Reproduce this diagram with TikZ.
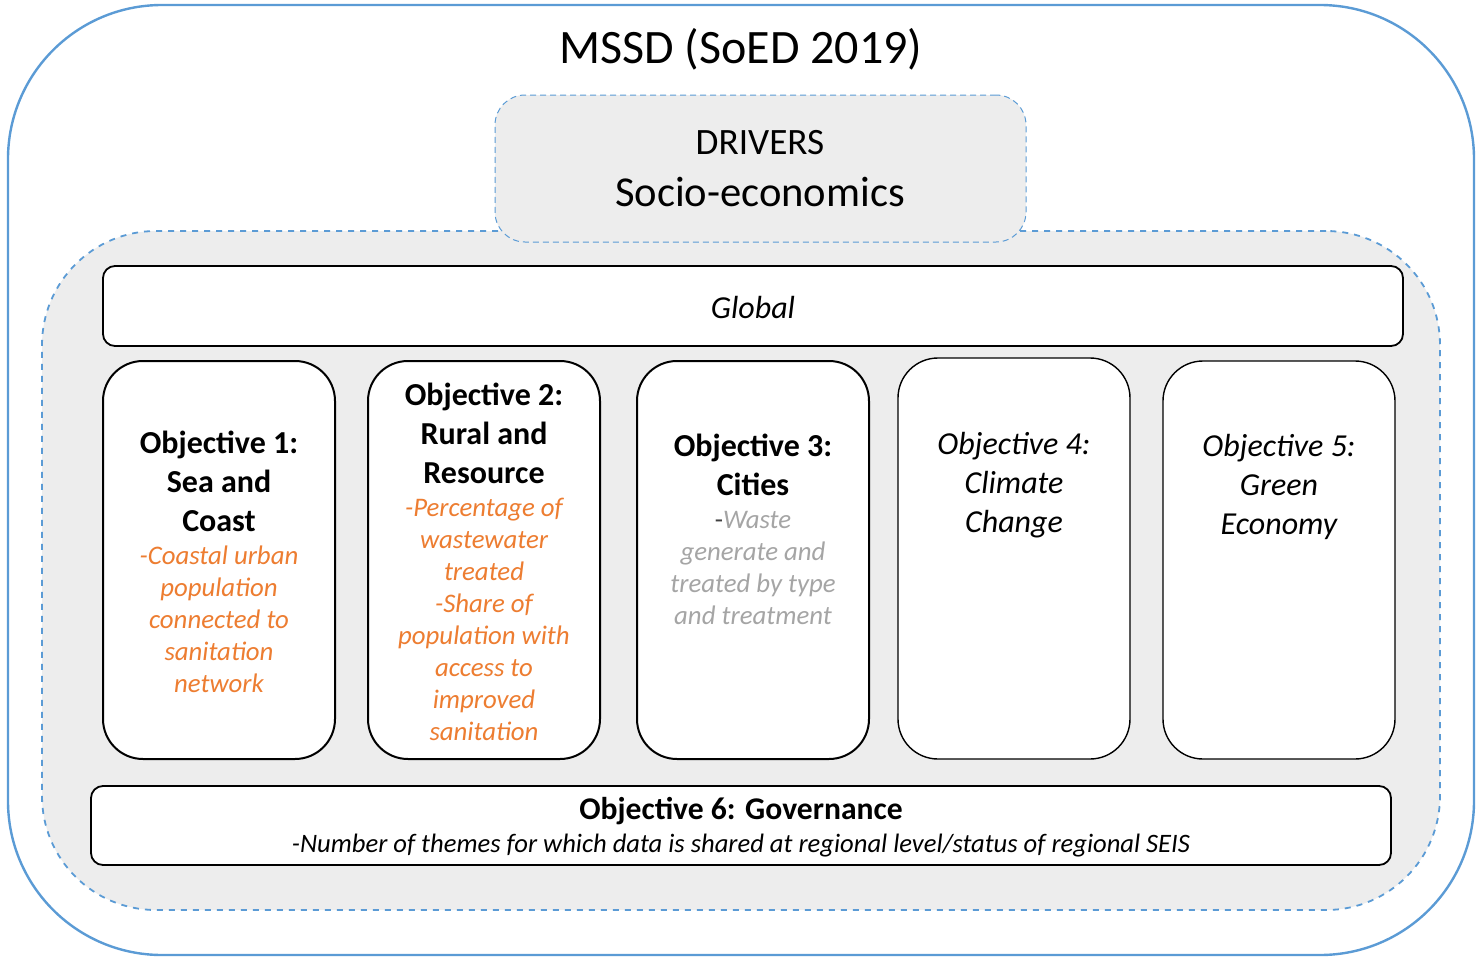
\documentclass[tikz,border=0pt]{standalone}
\usepackage{fontspec}
\setmainfont{Carlito}
\usepackage{tikz}
\usetikzlibrary{positioning}
\definecolor{frameblue}{HTML}{5B9BD5}
\definecolor{panelgrey}{HTML}{EDEDED}
\definecolor{indorange}{HTML}{ED7D31}
\definecolor{indgrey}{HTML}{A5A5A5}
\tikzset{objbox/.style={draw=black,fill=white,line width=1pt,rounded corners=20pt,minimum width=116pt,minimum height=199pt,inner sep=0pt}}
\tikzset{barbox/.style={draw=black,fill=white,line width=0.9pt,rounded corners=6pt,minimum width=650pt,minimum height=40pt,inner sep=0pt}}
\tikzset{objtitle/.style={align=center,inner sep=0pt,font=\fontsize{16}{19.5}\selectfont\bfseries}}
\tikzset{objitalic/.style={align=center,inner sep=0pt,font=\fontsize{16}{19.5}\selectfont\itshape}}
\tikzset{indicator/.style={align=center,inner sep=0pt,font=\fontsize{13.4}{16}\selectfont\itshape}}

\begin{document}
\begin{tikzpicture}[x=0.5pt,y=-0.5pt]
        \useasboundingbox (0,0) rectangle (1479,958);
        % frames
        \node[draw=frameblue,line width=1.2pt,rounded corners=77pt,minimum width=733pt,minimum height=475pt] (mssd) at (741,480) {};
        \node[draw=frameblue,fill=panelgrey,dashed,line width=0.9pt,rounded corners=57pt,minimum width=699pt,minimum height=339.5pt] (panel) at (741,570.5) {};
        \node[draw=frameblue,fill=panelgrey,densely dashed,line width=0.5pt,rounded corners=15pt,minimum width=265.5pt,minimum height=73.5pt] (drivers) at (760.5,168.5) {};
        \node[font=\fontsize{24}{28}\selectfont] (title) at (741,49) {MSSD (SoED 2019)};
        \node[font=\fontsize{18.6}{22}\selectfont] (drivers-head) at (760,143) {DRIVERS};
        \node[font=\fontsize{21.3}{25}\selectfont] (drivers-text) at (760,192) {Socio-economics};

        \node[barbox] (global) at (753,306) {};
        \node[font=\fontsize{16}{19}\selectfont\itshape] (global-text) at (753,307) {Global};

        % objectives
        \node[objbox] (obj1) at (219,560) {};
        \node[objbox] (obj2) at (484,560) {};
        \node[objbox] (obj3) at (753,560) {};
        \node[objbox,line width=0.7pt,minimum height=200.5pt] (obj4) at (1014,558.5) {};
        \node[objbox,line width=0.7pt] (obj5) at (1279,560) {};

        \node[objtitle] (obj1-title) at (219,481) {Objective 1:\\Sea and\\Coast};
        \node[indicator,text=indorange] (obj1-ind) at (219,619) {-Coastal urban\\population\\connected to\\sanitation\\network};
        \node[objtitle] (obj2-title) at (484,433) {Objective 2:\\Rural and\\Resource};
        \node[indicator,text=indorange] (obj2-ind) at (484,619) {-Percentage of\\wastewater\\treated\\-Share of\\population with\\access to\\improved\\sanitation};
        \node[objtitle] (obj3-title) at (753,465) {Objective 3:\\Cities};
        \node[indicator,text=indgrey] (obj3-ind) at (753,568) {{\upshape\color{black!75}-}Waste\\generate and\\treated by type\\and treatment};
        \node[objitalic] (obj4-title) at (1014,485.5) {Objective 4:\\Climate\\Change};
        \node[objitalic] (obj5-title) at (1279,487) {Objective 5:\\Green\\Economy};

        \node[barbox,minimum height=39.5pt] (obj6) at (741,825.5) {};
        \node[font=\fontsize{15.8}{19}\selectfont\bfseries] (obj6-title) at (741,811) {Objective 6: Governance};
        \node[font=\fontsize{13.3}{16}\selectfont\itshape] (obj6-ind) at (741,846) {-Number of themes for which data is shared at regional level/status of regional SEIS};
    \end{tikzpicture}
\end{document}
